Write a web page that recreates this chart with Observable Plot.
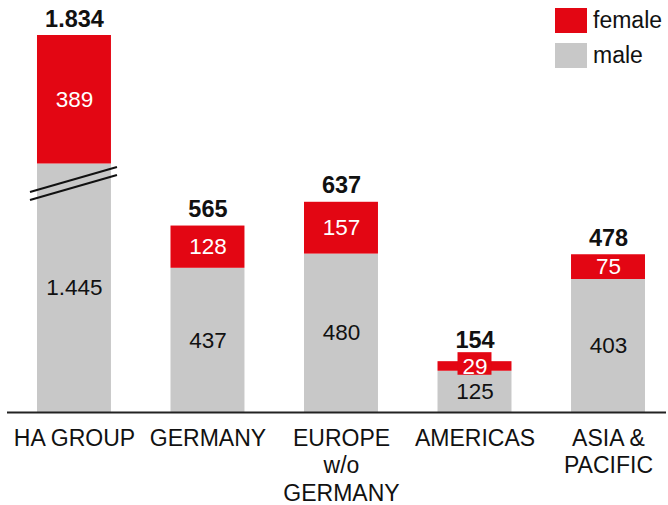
<!DOCTYPE html>
<html><head><meta charset="utf-8">
<script src="https://cdn.jsdelivr.net/npm/d3@7"></script>
<script src="https://cdn.jsdelivr.net/npm/@observablehq/plot@0.6"></script>
<style>
body{margin:0;background:#fff;font-family:"Liberation Sans",Arial,sans-serif;}
#wrap{position:relative;width:668px;height:505px;}
#legend{position:absolute;left:555px;top:3px;}
.item{display:flex;align-items:center;height:35px;font-size:23px;color:#111;}
.sw{width:32px;height:25px;margin-right:6px;}
</style></head><body>
<div id="wrap"><div id="legend"></div></div>
<script>
// ---- data ----
const regions = ["HA GROUP", "GERMANY", "EUROPE\nw/o\nGERMANY", "AMERICAS", "ASIA &\nPACIFIC"];
const male = [1445, 437, 480, 125, 403];
const female = [389, 128, 157, 29, 75];
const totals = [1834, 565, 637, 154, 478];
const totalLabels = ["1.834", "565", "637", "154", "478"];
const maleLabels = ["1.445", "437", "480", "125", "403"];
const femaleLabels = ["389", "128", "157", "29", "75"];
const series = ["female", "male"];
const seriesColors = ["#E30613", "#C8C8C8"];
// broken axis: the part of the scale between breakFrom and breakTo is cut out
const brokenRegion = "HA GROUP";
const breakFrom = 753;
const breakTo = 1445;
const yMax = 1834;

// ---- tables ----
const bars = [];
regions.forEach((r, i) => {
  bars.push({region: r, sex: "male", value: male[i]});
  bars.push({region: r, sex: "female", value: female[i]});
});

const yDomain = [0, breakFrom, breakTo, yMax];
const yRange = [412, 163.5, 163.5, 35];
const yS = d3.scaleLinear().domain(yDomain).range(yRange);
const mid = (a, b) => yS.invert((yS(a) + yS(b)) / 2);
const small = (a, b) => Math.abs(yS(a) - yS(b)) < 20;

const labels = [];
regions.forEach((r, i) => {
  labels.push({region: r, y: mid(0, male[i]), text: maleLabels[i], fill: "#111"});
  labels.push({region: r, y: mid(male[i], totals[i]), text: femaleLabels[i], fill: "#fff"});
});
const boxes = regions.map((r, i) => ({region: r, y1: male[i], y2: totals[i]}))
  .filter(d => small(d.y1, d.y2));
const totalRows = regions.map((r, i) => ({region: r, total: totals[i], text: totalLabels[i], boxed: small(male[i], totals[i])}));

// break marks drawn through the scales
function breakMark(index, scales) {
  const x = scales.x;
  const x0 = x(brokenRegion);
  const bw = x.bandwidth ? x.bandwidth() : 74;
  const yb = scales.y(breakTo);
  const g = d3.create("svg:g");
  for (const off of [0, 8]) {
    g.append("line")
      .attr("x1", x0 - 7).attr("y1", yb + 28.5 + off)
      .attr("x2", x0 + bw + 6).attr("y2", yb + 3.5 + off)
      .attr("stroke", "#111").attr("stroke-width", 2);
  }
  return g.node();
}

const chart = Plot.plot({
  width: 668,
  height: 505,
  marginTop: 0,
  marginLeft: 7,
  marginRight: 2,
  marginBottom: 93,
  style: {fontFamily: "'Liberation Sans', Arial, sans-serif", fontSize: "23px", color: "#111", background: "#fff"},
  x: {domain: regions, paddingInner: 0.446, paddingOuter: 0.191, align: 0.588, round: false, label: null},
  y: {type: "linear", domain: yDomain, range: yRange, axis: null},
  color: {domain: series, range: seriesColors},
  marks: [
    Plot.barY(bars, Plot.stackY({x: "region", y: "value", z: "sex", fill: "sex", order: null})),
    Plot.barY(boxes, {x: "region", y1: "y1", y2: "y2", fill: seriesColors[0], insetLeft: 20, insetRight: 20, insetTop: -9, insetBottom: -4}),
    breakMark,
    Plot.ruleY([0], {stroke: "#222", strokeWidth: 2}),
    Plot.text(labels, {x: "region", y: "y", text: "text", fill: "fill", fontSize: 22.5}),
    Plot.text(totalRows.filter(d => !d.boxed), {x: "region", y: "total", text: "text", dy: -9, lineAnchor: "bottom", fontWeight: "bold", fontSize: 23.5, fill: "#111"}),
    Plot.text(totalRows.filter(d => d.boxed), {x: "region", y: "total", text: "text", dy: -14, lineAnchor: "bottom", fontWeight: "bold", fontSize: 23.5, fill: "#111"}),
    Plot.axisX({tickSize: 0, tickPadding: 14, fontSize: 23, lineHeight: 1.19, fill: "#111", label: null})
  ]
});
document.getElementById("wrap").prepend(chart);

const legend = document.getElementById("legend");
series.forEach((s, i) => {
  const item = document.createElement("div");
  item.className = "item";
  item.innerHTML = `<span class="sw" style="background:${seriesColors[i]}"></span><span>${s}</span>`;
  legend.appendChild(item);
});
</script>
</body></html>
